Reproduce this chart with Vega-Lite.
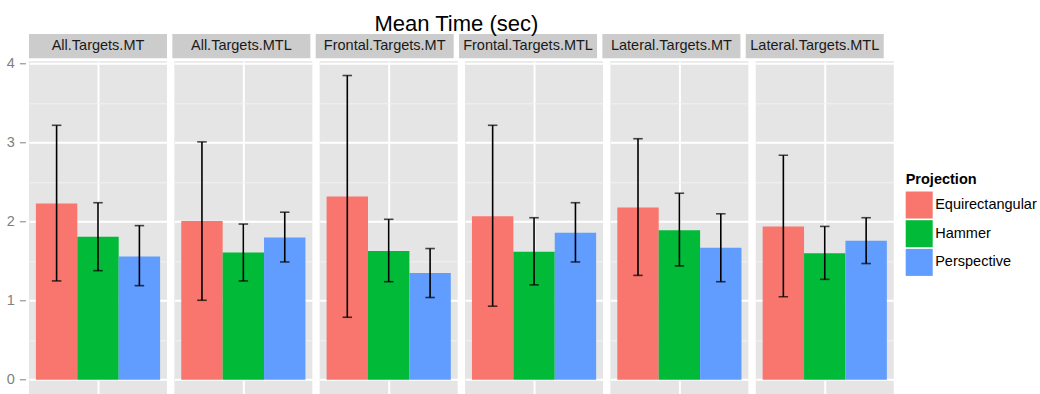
{
  "$schema": "https://vega.github.io/schema/vega-lite/v6.json",
  "autosize": {"type": "pad"},
  "padding": {"left": 6, "top": 13, "right": 4, "bottom": 0},
  "background": "white",
  "config": {
    "font": "Liberation Sans",
    "view": {"stroke": null}
  },
  "data": {
    "values": [
      {"panel": "All.Targets.MT", "projection": "Equirectangular", "mean": 2.23, "lo": 1.25, "hi": 3.22},
      {"panel": "All.Targets.MT", "projection": "Hammer", "mean": 1.81, "lo": 1.38, "hi": 2.24},
      {"panel": "All.Targets.MT", "projection": "Perspective", "mean": 1.56, "lo": 1.19, "hi": 1.95},
      {"panel": "All.Targets.MTL", "projection": "Equirectangular", "mean": 2.01, "lo": 1.005, "hi": 3.01},
      {"panel": "All.Targets.MTL", "projection": "Hammer", "mean": 1.61, "lo": 1.25, "hi": 1.97},
      {"panel": "All.Targets.MTL", "projection": "Perspective", "mean": 1.80, "lo": 1.49, "hi": 2.12},
      {"panel": "Frontal.Targets.MT", "projection": "Equirectangular", "mean": 2.32, "lo": 0.79, "hi": 3.85},
      {"panel": "Frontal.Targets.MT", "projection": "Hammer", "mean": 1.63, "lo": 1.24, "hi": 2.03},
      {"panel": "Frontal.Targets.MT", "projection": "Perspective", "mean": 1.35, "lo": 1.04, "hi": 1.66},
      {"panel": "Frontal.Targets.MTL", "projection": "Equirectangular", "mean": 2.07, "lo": 0.93, "hi": 3.22},
      {"panel": "Frontal.Targets.MTL", "projection": "Hammer", "mean": 1.62, "lo": 1.20, "hi": 2.05},
      {"panel": "Frontal.Targets.MTL", "projection": "Perspective", "mean": 1.86, "lo": 1.49, "hi": 2.24},
      {"panel": "Lateral.Targets.MT", "projection": "Equirectangular", "mean": 2.18, "lo": 1.32, "hi": 3.05},
      {"panel": "Lateral.Targets.MT", "projection": "Hammer", "mean": 1.89, "lo": 1.44, "hi": 2.36},
      {"panel": "Lateral.Targets.MT", "projection": "Perspective", "mean": 1.67, "lo": 1.24, "hi": 2.10},
      {"panel": "Lateral.Targets.MTL", "projection": "Equirectangular", "mean": 1.94, "lo": 1.05, "hi": 2.84},
      {"panel": "Lateral.Targets.MTL", "projection": "Hammer", "mean": 1.60, "lo": 1.27, "hi": 1.94},
      {"panel": "Lateral.Targets.MTL", "projection": "Perspective", "mean": 1.76, "lo": 1.47, "hi": 2.05}
    ]
  },
  "spacing": -3.7,
  "vconcat": [
    {
      "title": {
        "text": "Mean Time (sec)",
        "fontSize": 22,
        "font": "Liberation Sans",
        "fontWeight": "normal",
        "color": "black",
        "anchor": "middle",
        "frame": "bounds",
        "baseline": "alphabetic",
        "offset": -19
      },
      "transform": [{"aggregate": [{"op": "count", "as": "n"}], "groupby": ["panel"]}],
      "facet": {"column": {"field": "panel", "type": "nominal", "header": null}},
      "spacing": 5.35,
      "spec": {
        "width": 138,
        "height": 24.3,
        "view": {"fill": "#CCCCCC", "stroke": null},
        "mark": {"type": "text", "fontSize": 14.5, "font": "Liberation Sans", "color": "#1A1A1A", "baseline": "middle"},
        "encoding": {"text": {"field": "panel", "type": "nominal"}}
      }
    },
    {
      "facet": {"column": {"field": "panel", "type": "nominal", "header": null}},
      "spacing": 5.35,
      "spec": {
        "width": 138,
        "height": 333.7,
        "view": {"fill": "#E5E5E5", "stroke": null},
        "encoding": {
          "x": {
            "field": "projection",
            "type": "nominal",
            "scale": {"paddingInner": 0, "paddingOuter": 0.1667},
            "axis": {
              "title": null,
              "labels": false,
              "ticks": false,
              "domain": false,
              "grid": true,
              "values": ["Hammer"],
              "bandPosition": 0.5,
              "gridColor": "white",
              "gridWidth": 2
            }
          }
        },
        "layer": [
          {
            "mark": {"type": "bar"},
            "encoding": {
              "y": {
                "field": "mean",
                "type": "quantitative",
                "scale": {"domain": [-0.194, 4.03], "nice": false, "zero": false},
                "axis": {
                  "title": null,
                  "values": [0, 0.5, 1, 1.5, 2, 2.5, 3, 3.5, 4],
                  "labelExpr": "datum.value % 1 !== 0 ? '' : format(datum.value, 'd')",
                  "labelOverlap": false,
                  "labelFlush": false,
                  "labelFontSize": 14.5,
                  "labelFont": "Liberation Sans",
                  "labelColor": "#7F7F7F",
                  "labelPadding": 5,
                  "domain": false,
                  "offset": 1.6,
                  "tickSize": 6,
                  "tickWidth": 1,
                  "tickColor": "#7F7F7F",
                  "tickOpacity": {"condition": {"test": "datum.value % 1 !== 0", "value": 0}, "value": 1},
                  "gridColor": {"condition": {"test": "datum.value % 1 !== 0", "value": "#F2F2F2"}, "value": "white"},
                  "gridWidth": {"condition": {"test": "datum.value % 1 !== 0", "value": 1}, "value": 2}
                }
              },
              "y2": {"datum": 0},
              "color": {
                "field": "projection",
                "type": "nominal",
                "scale": {
                  "domain": ["Equirectangular", "Hammer", "Perspective"],
                  "range": ["#F8766D", "#00BA38", "#619CFF"]
                },
                "legend": {
                  "title": "Projection",
                  "orient": "none",
                  "legendX": 876.7,
                  "legendY": 139,
                  "padding": 0,
                  "symbolType": "square",
                  "symbolSize": 729,
                  "symbolStrokeWidth": 0,
                  "symbolOpacity": 1,
                  "labelFontSize": 14.5,
                  "labelFont": "Liberation Sans",
                  "labelColor": "black",
                  "labelOffset": 2.5,
                  "rowPadding": 1.7,
                  "titleFontSize": 14.5,
                  "titleFont": "Liberation Sans",
                  "titleFontWeight": "bold",
                  "titleColor": "black",
                  "titlePadding": 4
                }
              }
            }
          },
          {
            "mark": {"type": "rule", "color": "black", "strokeWidth": 1.6},
            "encoding": {
              "y": {"field": "lo", "type": "quantitative"},
              "y2": {"field": "hi"}
            }
          },
          {
            "mark": {"type": "tick", "color": "black", "size": 9.5, "thickness": 1.6},
            "encoding": {"y": {"field": "lo", "type": "quantitative"}}
          },
          {
            "mark": {"type": "tick", "color": "black", "size": 9.5, "thickness": 1.6},
            "encoding": {"y": {"field": "hi", "type": "quantitative"}}
          }
        ]
      }
    }
  ]
}
